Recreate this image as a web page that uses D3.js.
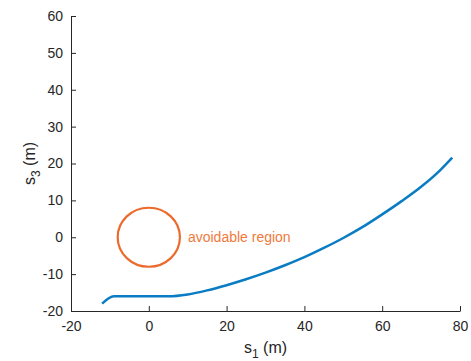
<!DOCTYPE html>
<html>
<head>
<meta charset="utf-8">
<script src="https://cdn.jsdelivr.net/npm/d3@7"></script>
<style>
  body { margin: 0; background: #fff; }
  text { font-family: "Liberation Sans", Arial, Helvetica, sans-serif; }
</style>
</head>
<body>
<div id="chart-area"></div>
<script>
// trajectory samples (s1, s3)
const s1 = [-12, -9, 0, 5, 10, 15, 20, 25, 30, 35, 40, 45, 50, 55, 60, 65, 70, 75, 78];
const s3 = [-18, -16, -16, -16, -15.5, -14.4, -13.0, -11.4, -9.6, -7.6, -5.4, -2.9, -0.2, 2.8, 6.2, 9.8, 13.7, 18.3, 21.6];

// avoidable region: circle centre and radius
const regionCenter = [0, 0];
const regionRadius = 8;
const regionLabel = 'avoidable region';

const xTicks = [-20, 0, 20, 40, 60, 80];
const yTicks = [-20, -10, 0, 10, 20, 30, 40, 50, 60];

// window and margins
const margin = { left: 71, right: 11, top: 16, bottom: 50 };
const width = 471 - margin.left - margin.right;
const height = 361 - margin.top - margin.bottom;

const svg = d3.select('#chart-area')
  .append('svg')
  .attr('width', 471)
  .attr('height', 361);

const g = svg.append('g')
  .attr('transform', 'translate(' + margin.left + ', ' + margin.top + ')');

const x = d3.scaleLinear().domain([-20, 80]).range([0, width]);
const y = d3.scaleLinear().domain([-20, 60]).range([height, 0]);

const axisColor = '#262626';

// x axis, ticks pointing inward
const xAxis = g.append('g')
  .attr('transform', 'translate(0, ' + height + ')')
  .call(d3.axisBottom(x).tickValues(xTicks).tickSizeInner(-5).tickSizeOuter(0).tickPadding(10)
    .tickFormat(d => d));
xAxis.select('.domain').attr('stroke', axisColor);
xAxis.selectAll('.tick line').attr('stroke', axisColor);
xAxis.selectAll('.tick text')
  .attr('fill', axisColor)
  .attr('font-size', '14px')
  .attr('font-family', '"Liberation Sans", Arial, sans-serif');

// y axis
const yAxis = g.append('g')
  .call(d3.axisLeft(y).tickValues(yTicks).tickSizeInner(-5).tickSizeOuter(0).tickPadding(8)
    .tickFormat(d => d));
yAxis.select('.domain').attr('stroke', axisColor);
yAxis.selectAll('.tick line').attr('stroke', axisColor);
yAxis.selectAll('.tick text')
  .attr('fill', axisColor)
  .attr('font-size', '14px')
  .attr('font-family', '"Liberation Sans", Arial, sans-serif');

// labels
const xLabel = g.append('text')
  .attr('x', width / 2)
  .attr('y', height + 42)
  .attr('text-anchor', 'middle')
  .attr('font-size', '16px')
  .attr('fill', axisColor);
xLabel.append('tspan').text('s');
xLabel.append('tspan').attr('dy', 5).attr('font-size', '12px').text('1');
xLabel.append('tspan').attr('dy', -5).text(' (m)');

const yLabel = g.append('text')
  .attr('transform', 'translate(-36, ' + (height / 2) + ') rotate(-90)')
  .attr('text-anchor', 'middle')
  .attr('font-size', '16px')
  .attr('fill', axisColor);
yLabel.append('tspan').text('s');
yLabel.append('tspan').attr('dy', 5).attr('font-size', '12px').text('3');
yLabel.append('tspan').attr('dy', -5).text(' (m)');

// avoidable region
g.append('ellipse')
  .attr('cx', x(regionCenter[0]))
  .attr('cy', y(regionCenter[1]))
  .attr('rx', x(regionCenter[0] + regionRadius) - x(regionCenter[0]))
  .attr('ry', y(regionCenter[1]) - y(regionCenter[1] + regionRadius))
  .attr('fill', 'none')
  .attr('stroke', '#EC6A2C')
  .attr('stroke-width', 2.2);

g.append('text')
  .attr('x', x(regionCenter[0] + regionRadius) + 8)
  .attr('y', y(regionCenter[1]) + 5)
  .attr('font-size', '14px')
  .attr('fill', '#F07A3C')
  .text(regionLabel);

// trajectory
const line = d3.line()
  .x((d, i) => x(s1[i]))
  .y((d, i) => y(s3[i]))
  .curve(d3.curveMonotoneX);

g.append('path')
  .datum(s1)
  .attr('d', line)
  .attr('fill', 'none')
  .attr('stroke', '#0A7CC4')
  .attr('stroke-width', 2.5);
</script>
</body>
</html>
